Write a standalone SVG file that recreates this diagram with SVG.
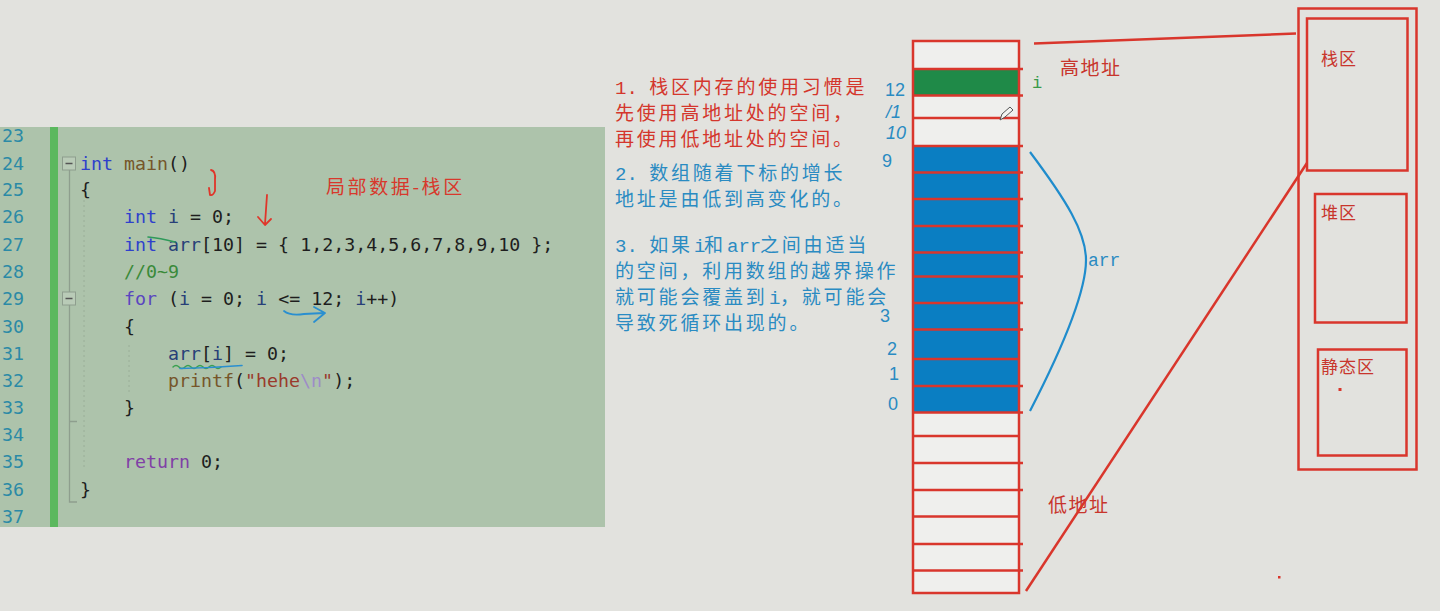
<svg xmlns="http://www.w3.org/2000/svg" width="1440" height="611" viewBox="0 0 1440 611">
<style>
.code{font-family:"DejaVu Sans Mono","Liberation Mono",monospace;font-size:18.3px;fill:#1e1e1e}
.ln{font-family:"DejaVu Sans Mono","Liberation Mono",monospace;font-size:18.3px;fill:#2b8aa6;text-anchor:end}
.kw{fill:#2f40cc}.fn{fill:#76562a}.var{fill:#283f78}.cm{fill:#3a8a3a}.ctl{fill:#5a46c0}.ret{fill:#8040a6}.str{fill:#9a3a2c}.esc{fill:#9e8cc8}
.note{font-family:"Noto Sans CJK SC",sans-serif;font-size:19px;letter-spacing:2.8px}
.lat{font-family:"Liberation Mono",monospace;letter-spacing:0}
.red{fill:#d4362c}.blue{fill:#2a8bc2}
.hand{font-family:"Liberation Sans",sans-serif;font-size:18px;fill:#2a8bc2}
.cell{stroke:#d9362c;stroke-width:2.5}
.rl{stroke:#d9362c;stroke-width:2.5;fill:none}
.zone{font-family:"Noto Sans CJK SC",sans-serif;font-size:17px;fill:#c8352c;letter-spacing:1px}
</style>
<rect x="0" y="0" width="1440" height="611" fill="#e2e2de"/>
<g id="code-panel">
<rect x="0" y="127" width="605" height="400" fill="#adc3ab"/>
<rect x="50" y="127" width="8" height="400" fill="#5bb85e"/>
<g id="fold">
<rect x="62.5" y="157" width="13" height="13" fill="#b9cbb7" stroke="#8e9e8e" stroke-width="1"/>
<line x1="65.5" y1="163.5" x2="72.5" y2="163.5" stroke="#555" stroke-width="1.5"/>
<rect x="62.5" y="292" width="13" height="13" fill="#b9cbb7" stroke="#8e9e8e" stroke-width="1"/>
<line x1="65.5" y1="298.5" x2="72.5" y2="298.5" stroke="#555" stroke-width="1.5"/>
<path d="M69.5,170 V292 M69.5,305 V502 H77 M69.5,421.5 H77" stroke="#8e9e8e" stroke-width="1.3" fill="none"/>
<path d="M84,200 V470 M129,345 V395" stroke="#9aae98" stroke-width="1" stroke-dasharray="2 3" fill="none"/>
</g>
<g id="line-numbers">
<text class="ln" x="24" y="141.5">23</text>
<text class="ln" x="24" y="169.5">24</text>
<text class="ln" x="24" y="195.5">25</text>
<text class="ln" x="24" y="222.5">26</text>
<text class="ln" x="24" y="250.5">27</text>
<text class="ln" x="24" y="277.5">28</text>
<text class="ln" x="24" y="304.5">29</text>
<text class="ln" x="24" y="332.5">30</text>
<text class="ln" x="24" y="359.5">31</text>
<text class="ln" x="24" y="386.5">32</text>
<text class="ln" x="24" y="413.5">33</text>
<text class="ln" x="24" y="440.5">34</text>
<text class="ln" x="24" y="467.5">35</text>
<text class="ln" x="24" y="495.5">36</text>
<text class="ln" x="24" y="522.5">37</text>
</g>
<g id="code-text" xml:space="preserve">
<text class="code" x="80" y="169.5"><tspan class="kw">int</tspan> <tspan class="fn">main</tspan>()</text>
<text class="code" x="80" y="195.5">{</text>
<text class="code" x="124" y="222.5"><tspan class="kw">int</tspan> <tspan class="var">i</tspan> = 0;</text>
<text class="code" x="124" y="250.5"><tspan class="kw">int</tspan> <tspan class="var">arr</tspan>[10] = { 1,2,3,4,5,6,7,8,9,10 };</text>
<text class="code cm" x="124" y="277.5">//0~9</text>
<text class="code" x="124" y="304.5"><tspan class="ctl">for</tspan> (<tspan class="var">i</tspan> = 0; <tspan class="var">i</tspan> &lt;= 12; <tspan class="var">i</tspan>++)</text>
<text class="code" x="124" y="332.5">{</text>
<text class="code" x="168" y="359.5"><tspan class="var">arr</tspan>[<tspan class="var">i</tspan>] = 0;</text>
<text class="code" x="168" y="386.5"><tspan class="fn">printf</tspan>(<tspan class="str">"hehe</tspan><tspan class="esc">\n</tspan><tspan class="str">"</tspan>);</text>
<text class="code" x="124" y="413.5">}</text>
<text class="code" x="124" y="467.5"><tspan class="ret">return</tspan> 0;</text>
<text class="code" x="80" y="495.5">}</text>
</g>
<g id="code-annotations" fill="none" stroke-linecap="round" stroke-linejoin="round">
<path d="M211,170 Q216,171 215,180 L215,191 Q213,196 210,195 L209,188" stroke="#e0352a" stroke-width="1.8"/>
<path d="M267,195 L265,224 M258,217 L265,225 L271,219" stroke="#e0352a" stroke-width="1.8"/>
<path d="M148,237 Q160,238 175,242" stroke="#2e9a5a" stroke-width="1.6"/>
<path d="M284,311 Q290,316 304,314 L324,313 M314,307 L325,313 L314,322" stroke="#2a8fd0" stroke-width="1.8"/>
<path d="M173,367 q3,-3 6,0 t6,0 t6,0 t6,0 t6,0 t6,0 t6,0 t6,0" stroke="#3aa050" stroke-width="1.5"/>
<path d="M180,368.5 Q210,368 242,365.5" stroke="#2a8fd0" stroke-width="1.6"/>
</g>
<text x="326" y="194" font-family="'Noto Sans CJK SC',sans-serif" font-size="19" letter-spacing="2.6" fill="#d8382c">局部数据-栈区</text>
</g>
<g id="notes">
<text class="note red" x="615" y="94"><tspan class="lat">1. </tspan>栈区内存的使用习惯是</text>
<text class="note red" x="615" y="120">先使用高地址处的空间，</text>
<text class="note red" x="615" y="146">再使用低地址处的空间。</text>
<text class="note blue" x="615" y="180"><tspan class="lat">2. </tspan>数组随着下标的增长</text>
<text class="note blue" x="615" y="206">地址是由低到高变化的。</text>
<text class="note blue" x="615" y="251.5"><tspan class="lat">3. </tspan>如果</text>
<text class="note blue lat" x="694" y="251.5" font-size="16">i</text>
<text class="note blue" x="704" y="251.5">和</text>
<text class="note blue lat" x="727" y="251.5" font-size="16">arr</text>
<text class="note blue" x="760" y="251.5">之间由适当</text>
<text class="note blue" x="615" y="277.5">的空间，利用数组的越界操作</text>
<text class="note blue" x="615" y="303.5">就可能会覆盖到</text>
<text class="note blue lat" x="769" y="303.5" font-size="16">i</text>
<text class="note blue" x="780" y="303.5">，就可能会</text>
<text class="note blue" x="615" y="329.5">导致死循环出现的。</text>
</g>
<g id="memory-column">
<rect x="913" y="41" width="106" height="552" fill="#efefed"/>
<rect x="913" y="69" width="106" height="27" fill="#1f8a48"/>
<rect x="913" y="146" width="106" height="266.5" fill="#0a7ec2"/>
<g class="cell">
<line x1="912" y1="69" x2="1023" y2="69"/>
<line x1="912" y1="95.5" x2="1023" y2="95.5"/>
<line x1="912" y1="118" x2="1019" y2="118"/>
<line x1="912" y1="146" x2="1023" y2="146"/>
<line x1="912" y1="172.5" x2="1023" y2="172.5"/>
<line x1="912" y1="199" x2="1023" y2="199"/>
<line x1="912" y1="226" x2="1023" y2="226"/>
<line x1="912" y1="252.5" x2="1023" y2="252.5"/>
<line x1="912" y1="276.5" x2="1023" y2="276.5"/>
<line x1="912" y1="303" x2="1023" y2="303"/>
<line x1="912" y1="329.5" x2="1023" y2="329.5"/>
<line x1="912" y1="359" x2="1019" y2="359"/>
<line x1="912" y1="386" x2="1023" y2="386"/>
<line x1="912" y1="412.5" x2="1023" y2="412.5"/>
<line x1="912" y1="436" x2="1019" y2="436"/>
<line x1="912" y1="463" x2="1023" y2="463"/>
<line x1="912" y1="490" x2="1023" y2="490"/>
<line x1="912" y1="516.5" x2="1019" y2="516.5"/>
<line x1="912" y1="544" x2="1023" y2="544"/>
<line x1="912" y1="570.5" x2="1023" y2="570.5"/>
</g>
<rect x="913" y="41" width="106" height="552" fill="none" class="cell"/>
<g id="pencil">
<path d="M1000,120 L1002,114 L1010,107 L1013,110 L1005,117 Z" fill="#f4f4f2" stroke="#555" stroke-width="1"/>
</g>
</g>
<g id="index-labels">
<text class="hand" x="885" y="96" font-size="18">12</text>
<text class="hand" x="886" y="118" font-style="italic" font-size="17">/1</text>
<text class="hand" x="886" y="139" font-style="italic" font-size="14">10</text>
<text class="hand" x="882" y="167">9</text>
<text class="hand" x="880" y="322">3</text>
<text class="hand" x="887" y="355">2</text>
<text class="hand" x="889" y="380">1</text>
<text class="hand" x="888" y="410">0</text>
</g>
<g id="labels">
<text x="1032" y="88" font-family="'Liberation Mono',monospace" font-size="17" fill="#3a9a4a">i</text>
<text x="1060" y="75" font-family="'Noto Sans CJK SC',sans-serif" font-size="19" fill="#c8352c" letter-spacing="1.5">高地址</text>
<text x="1048" y="512" font-family="'Noto Sans CJK SC',sans-serif" font-size="19" fill="#c8352c" letter-spacing="1.5">低地址</text>
<text x="1088" y="266" font-family="'Liberation Mono',monospace" font-size="18" fill="#2a8bc2">arr</text>
</g>
<g id="connectors" fill="none">
<path d="M1030,152 C1066,200 1086,232 1086,260 C1086,292 1064,345 1030,411" stroke="#1f8ccc" stroke-width="2.2"/>
<line class="rl" x1="1034" y1="43.5" x2="1296" y2="33.5"/>
<line class="rl" x1="1026" y1="591" x2="1307" y2="163"/>
</g>
<g id="memory-map">
<rect class="rl" x="1298.5" y="8.5" width="118" height="461"/>
<g id="stack-zone">
<rect class="rl" x="1307" y="18.5" width="100.5" height="152"/>
<text class="zone" x="1321" y="65">栈区</text>
</g>
<g id="heap-zone">
<rect class="rl" x="1315" y="194" width="91.5" height="128.5"/>
<text class="zone" x="1321" y="219">堆区</text>
</g>
<g id="static-zone">
<rect class="rl" x="1318" y="349.5" width="88.5" height="106"/>
<text class="zone" x="1321" y="373">静态区</text>
<rect x="1338.5" y="388" width="3" height="3" fill="#d9362c"/>
</g>
</g>
<rect x="1278" y="576" width="2.5" height="2.5" fill="#d9362c"/>
</svg>
